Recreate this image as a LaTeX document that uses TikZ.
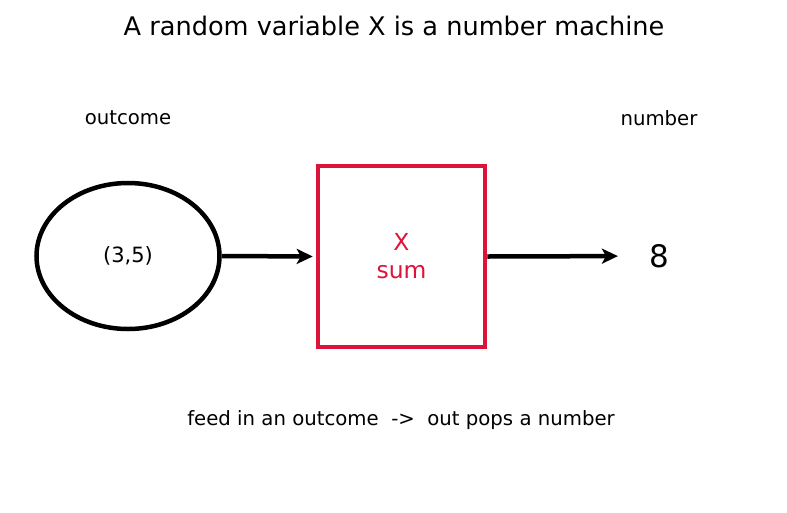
\documentclass[tikz,border=0pt]{standalone}
\usepackage{fontspec}
\setmainfont{DejaVu Sans}
\usetikzlibrary{arrows.meta,positioning,shapes.geometric}
\definecolor{crimson}{RGB}{220,20,60}

\begin{document}
\begin{tikzpicture}[x=1pt,y=-1pt,>={Stealth[length=16pt,width=15pt,inset=4pt]},
  lbl/.style={font=\fontsize{19.7}{23}\selectfont},
  flow/.style={->,line width=4.5pt}]
\useasboundingbox (0,0) rectangle (787,512);
\node (title) at (394,26) {\fontsize{25.6}{30}\selectfont A random variable X is a number machine};
\node[lbl] (outlbl) at (128,118) {outcome};
\node[lbl] (numlbl) at (659,118) {number};
\node[draw,ellipse,line width=4.5pt,minimum width=183pt,minimum height=146pt,inner sep=0pt,
  font=\fontsize{21}{25}\selectfont] (outcome) at (128,256) {(3,5)};
\node[draw=crimson,line width=4.5pt,minimum width=167pt,minimum height=181pt,
  text=crimson,align=center,font=\fontsize{23.4}{28}\selectfont] (machine) at (401.5,256.5) {X\\sum};
\node[font=\fontsize{31}{36}\selectfont,inner sep=0pt] (value) at (659,256) {8};
\draw[flow,shorten >=3pt] (outcome.east) -- (machine.west);
\draw[flow,shorten >=31pt] (machine.east) -- (value.west);
\node[lbl] (caption) at (401,420) {feed in an outcome\ \ ->\ \ out pops a number};
\end{tikzpicture}
\end{document}
